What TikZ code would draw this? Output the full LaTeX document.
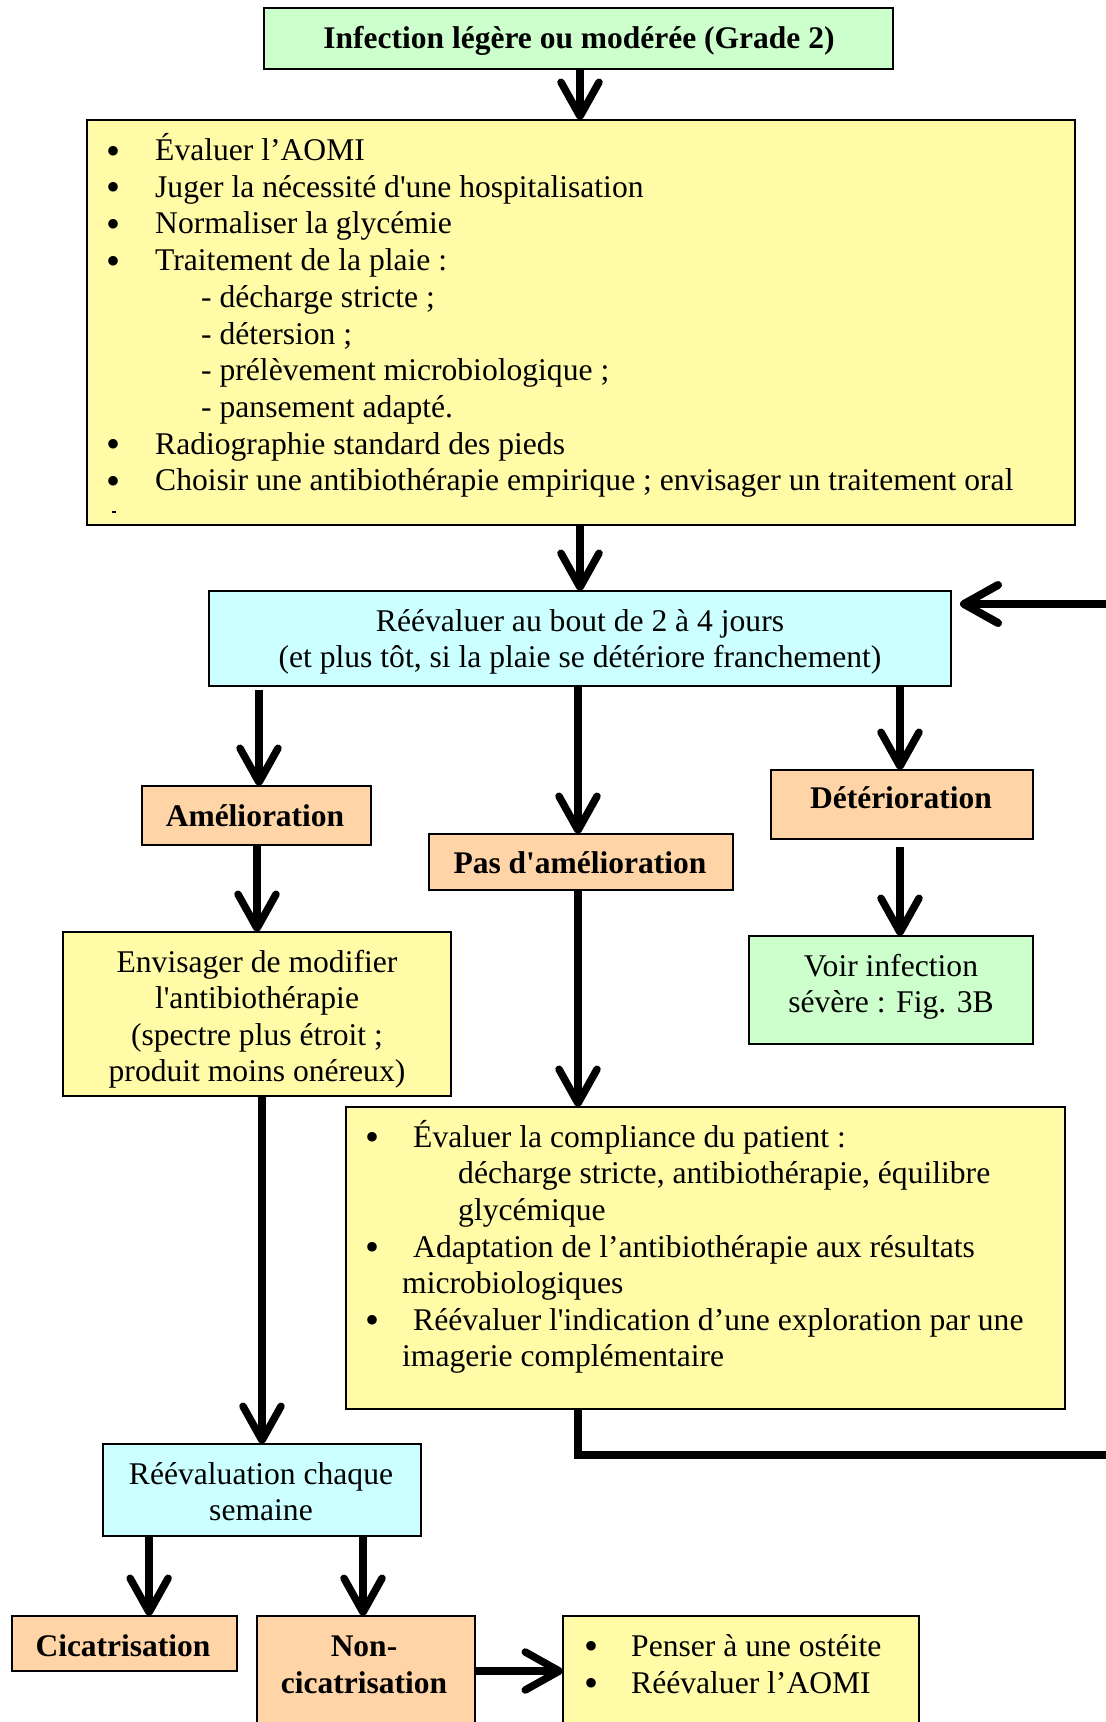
\documentclass[tikz,border=0pt]{standalone}
\usepackage{fontspec}
\setmainfont{Liberation Serif}[Ligatures=TeXOff]
\usetikzlibrary{arrows.meta,calc}

\definecolor{boxgreen}{HTML}{CCFFCC}
\definecolor{boxyellow}{HTML}{FFFBA6}
\definecolor{boxcyan}{HTML}{CCFFFF}
\definecolor{boxorange}{HTML}{FFD4A6}

\tikzset{
  box/.style={draw=black, line width=2pt, inner sep=0pt, outer sep=0pt},
  txt/.style={inner sep=0pt, anchor=base},
  ltxt/.style={inner sep=0pt, anchor=base west},
  btxt/.style={inner sep=0pt, anchor=base, font=\fontsize{31.5}{36.7}\selectfont\bfseries},
  bul/.style={inner sep=0pt, anchor=base, yshift=-3.5pt, text height=22pt, text depth=0pt,
              font=\fontsize{40}{40}\selectfont},
  arr/.style={line width=7.5pt, -{Straight Barb[length=34pt,width=38pt,round]}},
}

\begin{document}
\begin{tikzpicture}[x=1pt, y=-1pt, font=\fontsize{31.6}{36.7}\selectfont]
\useasboundingbox (0,0) rectangle (1106,1722);
\clip (0,0) rectangle (1106,1722);
\fill[white] (0,0) rectangle (1106,1722);

% ---- boxes
\node[box, fill=boxgreen,  minimum width=629, minimum height=61]  (top)    at (578.5,38.5) {};
\node[box, fill=boxyellow, minimum width=988, minimum height=405] (big)    at (581,322.5) {};
\node[box, fill=boxcyan,   minimum width=742, minimum height=95]  (reeval) at (580,638.5) {};
\node[box, fill=boxorange, minimum width=229, minimum height=59]  (amel)   at (256.5,815.5) {};
\node[box, fill=boxorange, minimum width=304, minimum height=56]  (pas)    at (581,862) {};
\node[box, fill=boxorange, minimum width=262, minimum height=69]  (deter)  at (902,804.5) {};
\node[box, fill=boxgreen,  minimum width=284, minimum height=108] (voir)   at (891,990) {};
\node[box, fill=boxyellow, minimum width=388, minimum height=164] (envis)  at (257,1014) {};
\node[box, fill=boxyellow, minimum width=719, minimum height=302] (comp)   at (705.5,1258) {};
\node[box, fill=boxcyan,   minimum width=318, minimum height=92]  (chaque) at (262,1490) {};
\node[box, fill=boxorange, minimum width=225, minimum height=55]  (cica)   at (124.5,1643.5) {};
\node[box, fill=boxorange, minimum width=218, minimum height=148] (noncic) at (366,1690) {};
\node[box, fill=boxyellow, minimum width=356, minimum height=148] (oste)   at (741,1690) {};

% ---- title
\node[btxt] (top-t) at (579,48) {Infection légère ou modérée (Grade 2)};

% ---- first care list
\node[bul]  (b1) at (114,160.5) {•};
\node[ltxt] (l1) at (155,160.5) {Évaluer l’AOMI};
\node[bul]  (b2) at (114,197.2) {•};
\node[ltxt] (l2) at (155,197.2) {Juger la nécessité d'une hospitalisation};
\node[bul]  (b3) at (114,233.9) {•};
\node[ltxt] (l3) at (155,233.9) {Normaliser la glycémie};
\node[bul]  (b4) at (114,270.6) {•};
\node[ltxt] (l4) at (155,270.6) {Traitement de la plaie :};
\node[ltxt] (l5) at (201,307.3) {- décharge stricte ;};
\node[ltxt] (l6) at (201,344.0) {- détersion ;};
\node[ltxt] (l7) at (201,380.7) {- prélèvement microbiologique ;};
\node[ltxt] (l8) at (201,417.4) {- pansement adapté.};
\node[bul]  (b9) at (114,454.1) {•};
\node[ltxt] (l9) at (155,454.1) {Radiographie standard des pieds};
\node[bul]  (b10) at (114,490.8) {•};
\node[ltxt] (l10) at (155,490.8) {Choisir une antibiothérapie empirique ; envisager un traitement oral};
\draw[line width=1.5pt] (112,512) -- (116,512);

% ---- re-evaluation
\node[txt] (re1) at (580,631) {Réévaluer au bout de 2 à 4 jours};
\node[txt] (re2) at (580,667) {(et plus tôt, si la plaie se détériore franchement)};

% ---- outcomes
\node[btxt] (amel-t)  at (255,826)   {Amélioration};
\node[btxt] (pas-t)   at (580,873)   {Pas d'amélioration};
\node[btxt] (deter-t) at (901,808.6) {Détérioration};

\node[txt] (voir1) at (891,976)  {Voir infection};
\node[txt] (voir2) at (891,1012) {sévère : Fig. 3B};

\node[txt] (en1) at (257,972)  {Envisager de modifier};
\node[txt] (en2) at (257,1008) {l'antibiothérapie};
\node[txt] (en3) at (257,1045) {(spectre plus étroit ;};
\node[txt] (en4) at (257,1081) {produit moins onéreux)};

% ---- compliance list
\node[bul]  (cb1) at (372,1147) {•};
\node[ltxt] (c1)  at (413,1147) {Évaluer la compliance du patient :};
\node[ltxt] (c2)  at (458,1183.6) {décharge stricte, antibiothérapie, équilibre};
\node[ltxt] (c3)  at (458,1220.2) {glycémique};
\node[bul]  (cb2) at (372,1257) {•};
\node[ltxt] (c4)  at (413,1257) {Adaptation de l’antibiothérapie aux résultats};
\node[ltxt] (c5)  at (402,1293.6) {microbiologiques};
\node[bul]  (cb3) at (372,1330.2) {•};
\node[ltxt] (c6)  at (413,1330.2) {Réévaluer l'indication d’une exploration par une};
\node[ltxt] (c7)  at (402,1366.8) {imagerie complémentaire};

% ---- weekly follow-up
\node[txt] (ch1) at (261,1484)   {Réévaluation chaque};
\node[txt] (ch2) at (261,1520.5) {semaine};

\node[btxt] (cica-t) at (123,1656) {Cicatrisation};
\node[btxt] (nc1)    at (364,1656) {Non-};
\node[btxt] (nc2)    at (364,1693) {cicatrisation};

\node[bul]  (ob1) at (591,1656) {•};
\node[ltxt] (o1)  at (631,1656) {Penser à une ostéite};
\node[bul]  (ob2) at (591,1693) {•};
\node[ltxt] (o2)  at (631,1693) {Réévaluer l’AOMI};

% ---- connectors
\coordinate (ts) at ([xshift=1.5pt]top.south);
\draw[arr] (ts) -- (ts |- big.north);
\draw[arr] (big.south -| reeval.north) -- (reeval.north);
\coordinate (ra) at ([xshift=2.5pt,yshift=-4pt]reeval.south -| amel.north);
\draw[arr] (ra) -- (ra |- amel.north);
\coordinate (rp) at ([xshift=-3pt]reeval.south -| pas.north);
\draw[arr] (rp) -- (rp |- pas.north);
\coordinate (rd) at ([xshift=-2pt]reeval.south -| deter.north);
\draw[arr] (rd) -- (rd |- deter.north);
\coordinate (dv) at ([xshift=-2pt,yshift=-8pt]deter.south);
\draw[arr] (dv) -- (dv |- voir.north);
\coordinate (ae) at ([xshift=0.5pt]amel.south);
\draw[arr] (ae) -- (ae |- envis.north);
\coordinate (pc) at ([xshift=-3pt]pas.south);
\draw[arr] (pc) -- (pc |- comp.north);
\draw[arr] (envis.south -| chaque.north) -- (chaque.north);
\coordinate (cc) at ($(chaque.south west)!0.145!(chaque.south east)$);
\draw[arr] (cc) -- (cc |- cica.north);
\coordinate (cn) at ([xshift=-3pt]chaque.south -| noncic.north);
\draw[arr] (cn) -- (cn |- noncic.north);
\draw[arr] (noncic.east |- cica.south) -- (oste.west |- cica.south);

% ---- loop back from the compliance box to the re-evaluation
\coordinate (loopc) at (1130,1455);
\coordinate (loopt) at (1130,604);
\draw[line width=8pt, -{Straight Barb[length=34pt,width=38pt,round]}]
  (pc |- comp.south) |- (loopc) -- (loopt) -- ([xshift=9pt]reeval.east |- loopt);

\end{tikzpicture}
\end{document}
